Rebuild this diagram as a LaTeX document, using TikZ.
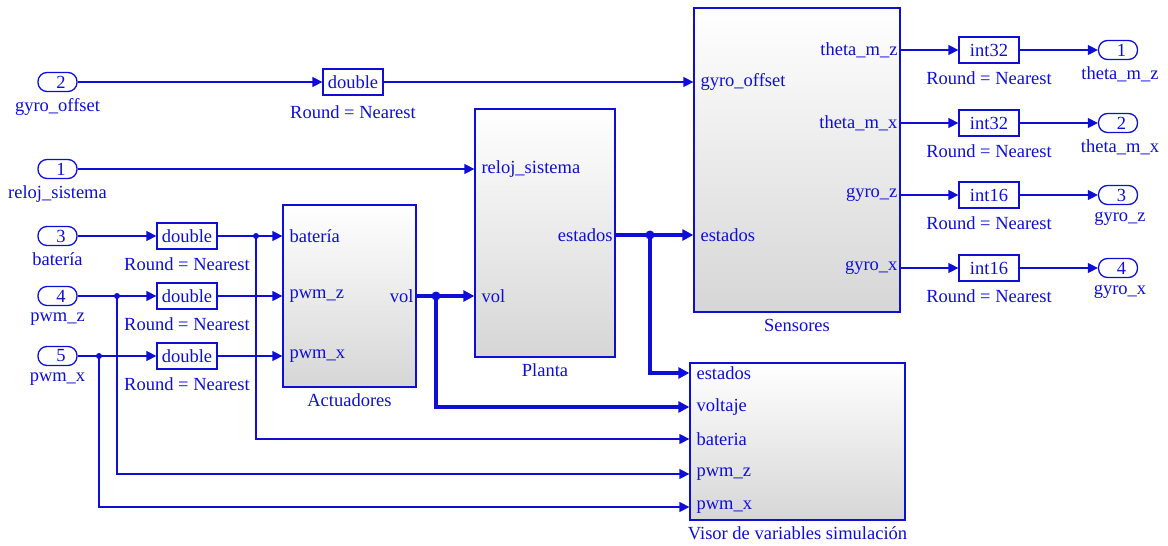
\documentclass[tikz,border=0pt]{standalone}
\usepackage{fontspec}
\setmainfont{Liberation Serif}
\usetikzlibrary{arrows.meta}
\definecolor{sl}{RGB}{14,14,215}
\definecolor{slgray}{RGB}{214,214,214}
\begin{document}
\begin{tikzpicture}[x=1pt,y=-1pt,
  every node/.style={text=sl,font=\fontsize{18.5}{20}\selectfont,inner sep=0pt},
  portpill/.style={draw=sl,line width=1.3pt,rounded corners=9pt,minimum width=39pt,minimum height=19pt},
  conv/.style={draw=sl,line width=1.3pt,minimum width=60pt,minimum height=26pt},
  sub/.style={draw=sl,line width=1.3pt,top color=white,bottom color=slgray},
  wire/.style={draw=sl,line width=1.4pt,-{Triangle[length=10pt,width=10pt]}},
  bus/.style={draw=sl,line width=4pt,-{Triangle[length=11pt,width=11pt]}},
  rnd/.style={anchor=north,yshift=-7.5pt},
  pname/.style={anchor=north,yshift=-6.5pt},
  title/.style={anchor=north,yshift=-6pt},
  inlbl/.style={anchor=west,xshift=7pt},
  outlbl/.style={anchor=east,xshift=-3pt},
  ]
\useasboundingbox (0,0) rectangle (1168,546);

% ---- inports (port number sits a little right of centre)
\node[portpill] (in2) at (57.5,82) {\hspace*{7pt}2};
\node[portpill] (in1) at (57.5,169) {\hspace*{7pt}1};
\node[portpill] (in3) at (57.5,236) {\hspace*{7pt}3};
\node[portpill] (in4) at (57.5,296) {\hspace*{7pt}4};
\node[portpill] (in5) at (57.5,356) {\hspace*{7pt}5};
\node[pname] (in2l) at (in2.south) {gyro\_offset};
\node[pname] (in1l) at (in1.south) {reloj\_sistema};
\node[pname] (in3l) at (in3.south) {batería};
\node[pname] (in4l) at (in4.south) {pwm\_z};
\node[pname] (in5l) at (in5.south) {pwm\_x};

% ---- conversions on the input side
\node[conv] (c0) at (353,82) {double};
\node[conv] (c3) at (187,236) {double};
\node[conv] (c4) at (187,296) {double};
\node[conv] (c5) at (187,356) {double};
\node[rnd,yshift=-2pt] (c0r) at (c0.south) {Round = Nearest};
\foreach \c in {c3,c4,c5} \node[rnd] (\c r) at (\c.south) {Round = Nearest};

% ---- subsystems
\node[sub,minimum width=133pt,minimum height=182pt] (act) at (349.5,296) {};
\node[sub,minimum width=140pt,minimum height=248pt] (plant) at (545,233) {};
\node[sub,minimum width=206pt,minimum height=304pt] (sens) at (797,160) {};
\node[sub,minimum width=215pt,minimum height=157pt] (visor) at (797.5,441.5) {};
\node[title] (actt) at (act.south) {Actuadores};
\node[title] (plantt) at (plant.south) {Planta};
\node[title] (senst) at (sens.south) {Sensores};
\node[title] (visort) at (visor.south) {Visor de variables simulación};

% ---- port positions
\coordinate (act-bat) at (act.west |- c3);
\coordinate (act-pz) at (act.west |- c4);
\coordinate (act-px) at (act.west |- c5);
\coordinate (act-vol) at (act.east |- c4);
\coordinate (pl-rel) at (plant.west |- in1);
\coordinate (pl-vol) at (plant.west |- c4);
\coordinate (pl-est) at (plant.east |- 0,235);
\coordinate (se-gyo) at (sens.west |- c0);
\coordinate (se-est) at (sens.west |- 0,235);
\coordinate (se-o1) at (sens.east |- 0,50);
\coordinate (se-o2) at (sens.east |- 0,123);
\coordinate (se-o3) at (sens.east |- 0,195);
\coordinate (se-o4) at (sens.east |- 0,268);
\coordinate (vi-est) at (visor.west |- 0,373);
\coordinate (vi-vol) at (visor.west |- 0,407);
\coordinate (vi-bat) at (visor.west |- 0,439);
\coordinate (vi-pz) at (visor.west |- 0,474);
\coordinate (vi-px) at (visor.west |- 0,507);

% ---- port labels
\node[inlbl] (l1) at (act-bat) {batería};
\node[inlbl] (l2) at (act-pz) {pwm\_z};
\node[inlbl] (l3) at (act-px) {pwm\_x};
\node[outlbl] (l4) at (act-vol) {vol};
\node[inlbl] (l5) at (pl-rel) {reloj\_sistema};
\node[inlbl] (l6) at (pl-vol) {vol};
\node[outlbl] (l7) at (pl-est) {estados};
\node[inlbl] (l8) at (se-gyo) {gyro\_offset};
\node[inlbl] (l9) at (se-est) {estados};
\node[outlbl] (l10) at (se-o1) {theta\_m\_z};
\node[outlbl] (l11) at (se-o2) {theta\_m\_x};
\node[outlbl] (l12) at (se-o3) {gyro\_z};
\node[outlbl] (l13) at (se-o4) {gyro\_x};
\node[inlbl] (l14) at (vi-est) {estados};
\node[inlbl] (l15) at (vi-vol) {voltaje};
\node[inlbl] (l16) at (vi-bat) {bateria};
\node[inlbl] (l17) at (vi-pz) {pwm\_z};
\node[inlbl] (l18) at (vi-px) {pwm\_x};

% ---- output conversions and outports
\node[conv] (d1) at (989,50) {int32};
\node[conv] (d2) at (989,123) {int32};
\node[conv] (d3) at (989,195) {int16};
\node[conv] (d4) at (989,268) {int16};
\foreach \c in {d1,d2,d3,d4} \node[rnd] (\c r) at (\c.south) {Round = Nearest};
\node[portpill] (o1) at (1118,50) {\hspace*{7pt}1};
\node[portpill] (o2) at (1118,123) {\hspace*{7pt}2};
\node[portpill] (o3) at (1118,195) {\hspace*{7pt}3};
\node[portpill] (o4) at (1118,268) {\hspace*{7pt}4};
\node[pname,xshift=2pt] (o1l) at (o1.south) {theta\_m\_z};
\node[pname,xshift=2pt] (o2l) at (o2.south) {theta\_m\_x};
\node[pname,xshift=2pt] (o3l) at (o3.south) {gyro\_z};
\node[pname,xshift=2pt] (o4l) at (o4.south) {gyro\_x};

% ---- branch points
\coordinate (b3) at (256,236);
\coordinate (b4) at (117,296);
\coordinate (b5) at (99,356);
\coordinate (bv) at (436,296);
\coordinate (be) at (650,235);

% ---- signal lines
\draw[wire] (in2.east) -- (c0.west);
\draw[wire] (c0.east) -- (se-gyo);
\draw[wire] (in1.east) -- (pl-rel);
\draw[wire] (in3.east) -- (c3.west);
\draw[wire] (in4.east) -- (c4.west);
\draw[wire] (in5.east) -- (c5.west);
\draw[wire] (c3.east) -- (act-bat);
\draw[wire] (c4.east) -- (act-pz);
\draw[wire] (c5.east) -- (act-px);
\draw[wire] (b3) |- (vi-bat);
\draw[wire] (b4) |- (vi-pz);
\draw[wire] (b5) |- (vi-px);
\draw[bus] (act-vol) -- (pl-vol);
\draw[bus] (bv) |- (vi-vol);
\draw[bus] (pl-est) -- (se-est);
\draw[bus] (be) |- (vi-est);
\draw[wire] (se-o1) -- (d1.west);
\draw[wire] (se-o2) -- (d2.west);
\draw[wire] (se-o3) -- (d3.west);
\draw[wire] (se-o4) -- (d4.west);
\draw[wire] (d1.east) -- (o1.west);
\draw[wire] (d2.east) -- (o2.west);
\draw[wire] (d3.east) -- (o3.west);
\draw[wire] (d4.east) -- (o4.west);

\fill[sl] (b3) circle (3pt) (b4) circle (3pt) (b5) circle (3pt);
\fill[sl] (bv) circle (4.5pt) (be) circle (4.5pt);
\end{tikzpicture}
\end{document}
